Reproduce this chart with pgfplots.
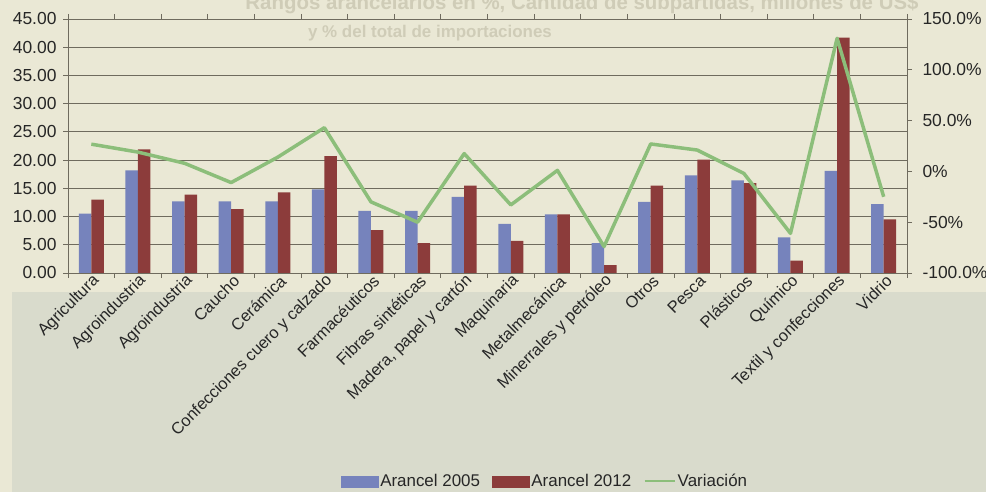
\documentclass[border=0pt]{standalone}
\usepackage{fontspec}
\setmainfont{Liberation Sans}
\usepackage{pgfplots}
\pgfplotsset{compat=1.18}

\definecolor{bgtop}{HTML}{EAE8D5}
\definecolor{bglow}{HTML}{D9DBCC}
\definecolor{gridc}{HTML}{6F6B5E}
\definecolor{bleed}{HTML}{CFCCB7}
\definecolor{a05}{HTML}{7683BC}
\definecolor{a12}{HTML}{8C3C3B}
\definecolor{varc}{HTML}{8CBE7A}

\pgfplotsset{
  every axis/.append style={
    scale only axis, width=839bp, height=254bp,
    at={(68bp,219bp)}, anchor=south west,
    xmin=-0.5, xmax=17.5,
    tick align=outside, major tick length=5bp,
    axis line style={gridc, line width=0.9bp},
    tick style={gridc, line width=0.8bp},
    tick label style={font=\fontsize{17.5}{20}\selectfont, text=black!85},
  },
}

\begin{document}
\begin{tikzpicture}[x=1bp,y=1bp]
\useasboundingbox (0,0) rectangle (986,492);
\fill[bgtop] (0,0) rectangle (986,492);
\fill[bglow] (12,0) rectangle (986,200);
% faint title showing through the paper
\node[bleed, font=\bfseries\fontsize{20.5}{24}\selectfont] at (582,488)
  {Rangos arancelarios en \%, Cantidad de subpartidas, millones de US\$};
\node[bleed, font=\bfseries\fontsize{17}{20}\selectfont] at (430,459)
  {y \% del total de importaciones};

\begin{axis}[
  ymin=0, ymax=45,
  ytick={0,5,...,45},
  axis y line*=left,
  ymajorgrids,
  major grid style={gridc, line width=0.9bp},
  yticklabel style={xshift=-3bp, /pgf/number format/.cd, fixed, fixed zerofill, precision=2, assume math mode=true},
  xtick={-0.5,0.5,...,17.5},
  x tick label as interval,
  xticklabels={Agricultura, Agroindustria, Agroindustria, Caucho, Cerámica,
    Confecciones cuero y calzado, Farmacéuticos, Fibras sintéticas,
    {Madera, papel y cartón}, Maquinaria, Metalmecánica, Minerrales y petróleo,
    Otros, Pesca, Plásticos, Químico, Textil y confecciones, Vidrio},
  xticklabel style={rotate=45, anchor=east, xshift=7bp, yshift=-4bp,
    font=\fontsize{16.5}{19}\selectfont},
  ybar=0pt, bar width=12.5bp,
]
\addplot[fill=a05, draw=none] coordinates {
  (0,10.5) (1,18.2) (2,12.7) (3,12.7) (4,12.7) (5,14.8) (6,11.0) (7,11.0) (8,13.5)
  (9,8.7) (10,10.4) (11,5.3) (12,12.6) (13,17.3) (14,16.4) (15,6.3) (16,18.1) (17,12.2)};
\addplot[fill=a12, draw=none] coordinates {
  (0,13.0) (1,21.9) (2,13.9) (3,11.3) (4,14.3) (5,20.7) (6,7.6) (7,5.3) (8,15.5)
  (9,5.7) (10,10.4) (11,1.4) (12,15.5) (13,20.1) (14,15.9) (15,2.2) (16,41.7) (17,9.5)};
\end{axis}

\begin{axis}[
  ymin=-100, ymax=150,
  ytick={-100,-50,...,150},
  yticklabels={-100.0\%, -50\%, 0\%, 50.0\%, 100.0\%, 150.0\%},
  yticklabel style={xshift=7bp},
  axis y line*=right,
  axis x line=none,
  legend columns=3,
  legend style={at={(0.5685,-0.819)}, anchor=center, draw=none, fill=none,
    font=\fontsize{17}{20}\selectfont, text=black!85,
    /tikz/every even column/.append style={column sep=10bp}},
  legend cell align=left,
]
\addlegendimage{legend image code/.code={\fill[a05] (0bp,-6bp) rectangle (37bp,5bp);}}
\addlegendentry{Arancel 2005}
\addlegendimage{legend image code/.code={\fill[a12] (0bp,-6bp) rectangle (37bp,5bp);}}
\addlegendentry{Arancel 2012}
\addplot[varc, line width=3.5bp, line join=round,
  legend image code/.code={\draw[varc, line width=2.5bp] (0bp,0bp) -- (30bp,0bp);}]
  coordinates {
  (0,26.8) (1,19) (2,8) (3,-11) (4,14) (5,43) (6,-30) (7,-50) (8,17.5)
  (9,-33) (10,1) (11,-74) (12,27) (13,21) (14,-2) (15,-61) (16,131) (17,-25)};
\addlegendentry{Variación}
\end{axis}
\end{tikzpicture}
\end{document}
